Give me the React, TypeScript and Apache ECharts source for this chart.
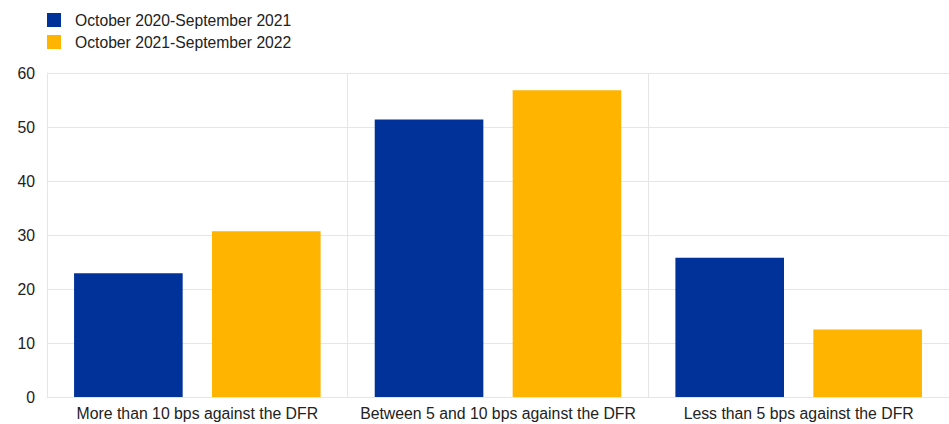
import React, { useEffect, useRef } from "react";
import * as echarts from "echarts";

const categories = [
  "More than 10 bps against the DFR",
  "Between 5 and 10 bps against the DFR",
  "Less than 5 bps against the DFR",
];
const seriesNames = ["October 2020-September 2021", "October 2021-September 2022"];
const values2021 = [22.9, 51.4, 25.8];
const values2022 = [30.7, 56.8, 12.5];
const colors = ["#003299", "#FFB400"];

export default function App() {
  const ref = useRef<HTMLDivElement>(null);
  useEffect(() => {
    if (!ref.current) return;
    const chart = echarts.init(ref.current, null, { renderer: "svg" });
    const font = "'Liberation Sans', Arial, sans-serif";
    chart.setOption({
      animation: false,
      textStyle: { fontFamily: font },
      legend: {
        orient: "vertical",
        left: 42,
        top: 7,
        itemWidth: 14,
        itemHeight: 14,
        itemGap: 6,
        icon: "rect",
        textStyle: { fontSize: 15.7, lineHeight: 14, color: "#222", fontFamily: font, padding: [0, 0, 0, 9] },
        data: seriesNames,
      },
      grid: { left: 47, right: 0, top: 73, bottom: 27, containLabel: false },
      xAxis: {
        type: "category",
        data: categories,
        axisLine: { show: true, lineStyle: { color: "#e6e6e6" } },
        axisTick: { show: false },
        axisLabel: { interval: 0, fontSize: 15.8, color: "#222", fontFamily: font, margin: 8 },
        splitLine: { show: true, interval: 0, lineStyle: { color: "#e6e6e6" } },
      },
      yAxis: {
        type: "value",
        min: 0,
        max: 60,
        interval: 10,
        axisLine: { show: true, lineStyle: { color: "#e6e6e6" } },
        axisTick: { show: false },
        axisLabel: { fontSize: 15.8, color: "#222", fontFamily: font, margin: 12 },
        splitLine: { show: true, lineStyle: { color: "#e6e6e6" } },
      },
      series: [
        {
          name: seriesNames[0],
          type: "bar",
          data: values2021,
          itemStyle: { color: colors[0] },
          barGap: "27%",
          barCategoryGap: "18%",
        },
        {
          name: seriesNames[1],
          type: "bar",
          data: values2022,
          itemStyle: { color: colors[1] },
          barGap: "27%",
          barCategoryGap: "18%",
        },
      ],
    });
    return () => chart.dispose();
  }, []);
  return <div ref={ref} style={{ width: 949, height: 424, position: "absolute", left: 0, top: 0 }} />;
}
